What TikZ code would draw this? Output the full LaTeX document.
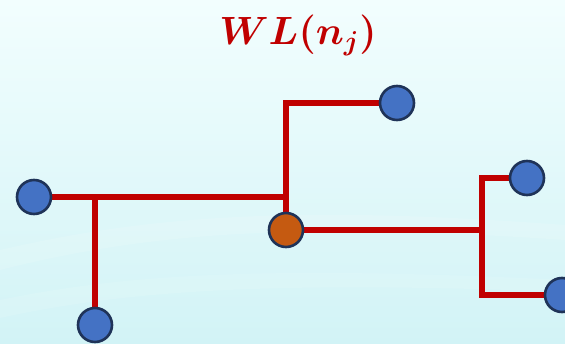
\documentclass[tikz,border=0pt]{standalone}
\usepackage{amsmath}
\usepackage{bm}
\usetikzlibrary{positioning, calc, backgrounds}
\definecolor{wirered}{HTML}{C00000}
\definecolor{leafblue}{HTML}{4472C4}
\definecolor{rootorange}{HTML}{C55A11}
\definecolor{rimnavy}{HTML}{1F3358}
\definecolor{skytop}{HTML}{F2FEFE}
\definecolor{skybottom}{HTML}{D2F3F6}
\pgfdeclarelayer{backdrop}
\pgfsetlayers{backdrop,background,main}
\tikzset{
  leaf/.style={circle, draw=rimnavy, line width=2.6pt, fill=leafblue,
    minimum size=34pt, inner sep=0pt},
  root/.style={leaf, fill=rootorange},
  wire/.style={draw=wirered, line width=6pt}
}

\begin{document}
\begin{tikzpicture}[x=1pt, y=-1pt]
  % backdrop
  \begin{pgfonlayer}{backdrop}
    \shade[top color=skytop, bottom color=skybottom] (0,0) rectangle (565,343);
    \fill[white, opacity=0.12] (0,250) .. controls (150,215) and (300,205) .. (565,225)
      -- (565,240) .. controls (300,222) and (150,232) .. (0,270) -- cycle;
    \fill[white, opacity=0.1] (0,300) .. controls (120,275) and (260,265) .. (565,280)
      -- (565,292) .. controls (260,280) and (120,292) .. (0,318) -- cycle;
  \end{pgfonlayer}
  \useasboundingbox (0,0) rectangle (565,343);

  % title
  \node[scale=1.9, text=wirered] (title) at (298,35)
    {\huge$\boldsymbol{WL(n_j)}$};

  % nodes
  \node[leaf] (west)  at (34,197)  {};
  \node[leaf] (south) at (95,325)  {};
  \node[root] (mid)   at (286,230) {};
  \node[leaf] (north) at (397,103) {};
  \node[leaf] (east1) at (527,178) {};
  \node[leaf] (east2) at (562,295) {};

  \coordinate (jw) at (95,197);
  \coordinate (jm) at (286,197);
  \coordinate (jn) at (286,103);
  \coordinate (je) at (482,230);
  \coordinate (je1) at (482,178);
  \coordinate (je2) at (482,295);

  % connectors
  \begin{scope}[on background layer]
    \draw[wire] (west.center) -- (jm);
    \draw[wire] (jw) -- (south.center);
    \draw[wire] (mid.center) -- (jn) -- (north.center);
    \draw[wire] (mid.center) -- (je);
    \draw[wire] (east1.center) -- (je1) -- (je2) -- (east2.center);
  \end{scope}
\end{tikzpicture}
\end{document}
